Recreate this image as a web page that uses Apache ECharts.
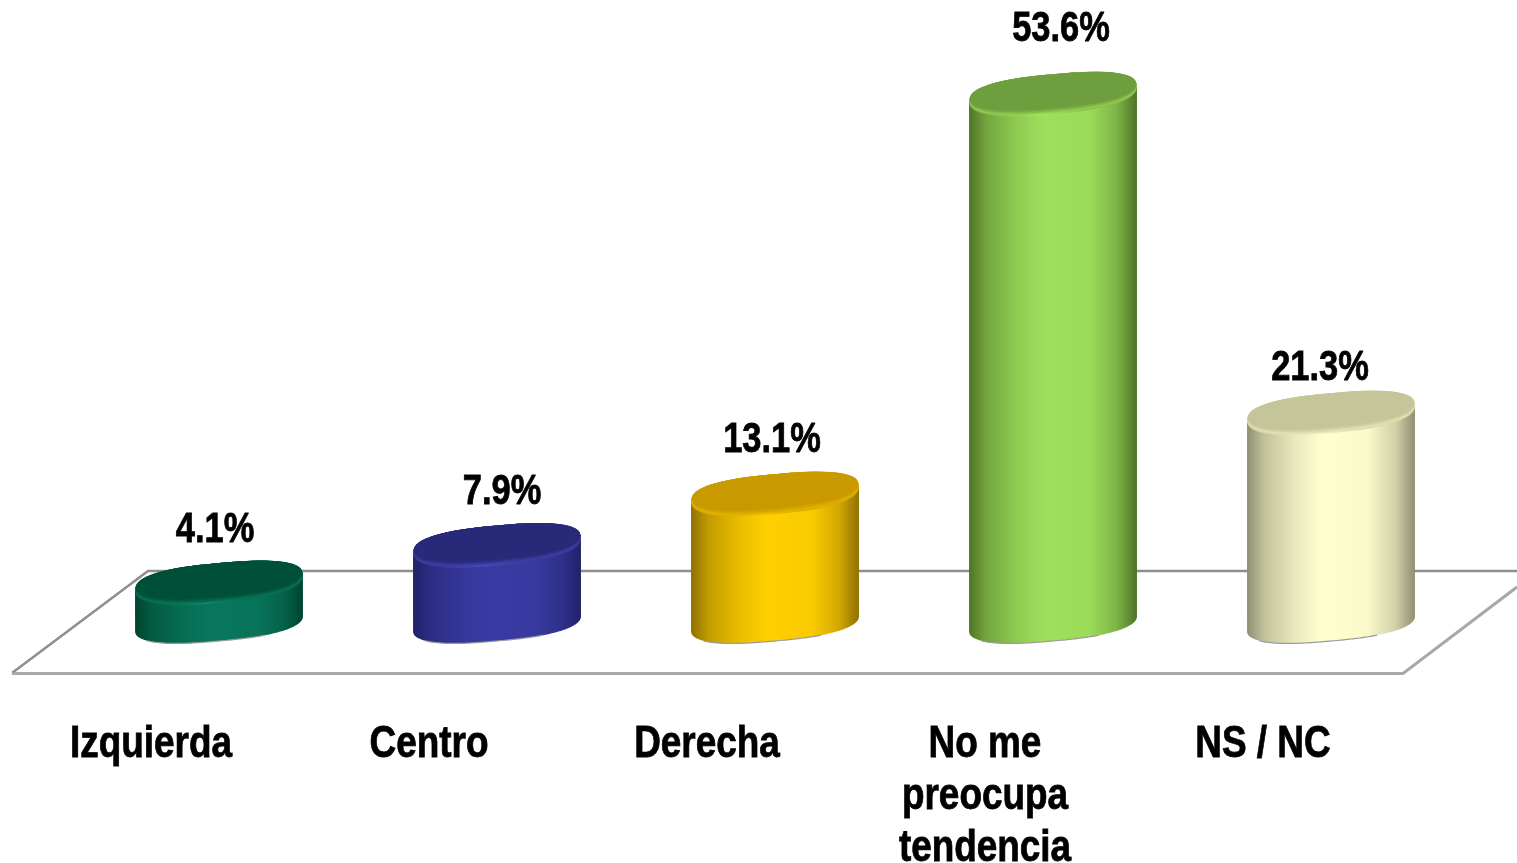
<!DOCTYPE html>
<html>
<head>
<meta charset="utf-8">
<style>
  html, body { margin: 0; padding: 0; background: #fff; }
  #chart { width: 1517px; height: 863px; }
</style>
<script src="https://cdn.jsdelivr.net/npm/echarts@6/dist/echarts.min.js"></script>
</head>
<body>
<div id="chart"></div>
<script>
// datos
const categories = ['Izquierda', 'Centro', 'Derecha', 'No me\npreocupa\ntendencia', 'NS / NC'];
const values = [4.1, 7.9, 13.1, 53.6, 21.3];

// colores: borde, centro, tapa
const edgeColors = ['#00442f', '#1f2168', '#8f7000', '#4f7327', '#8e8e72'];
const brightColors = ['#07775c', '#393ba3', '#ffcf00', '#9ee05b', '#ffffcf'];
const capColors = ['#004f39', '#29297a', '#c89a00', '#6f9e3e', '#c5c59a'];
const rimColors = ['#0f8a68', '#4a4cc0', '#f0c000', '#a6e85c', '#f2f2c4'];

// ajuste manual de las etiquetas respecto del centro de la tapa
const labelDx = [-4, 5, -3, 8, -11];
const labelDy = [-53, -53, -54, -65, -45];

const FONT = '"Liberation Sans", Arial, sans-serif';
const chart = echarts.init(document.getElementById('chart'));

// elipse inclinada (algo cuadrada para redondear los costados), de t0 a t1
function arc(cx, cy, a, b, s, t0, t1) {
  let pts = [];
  for (let i = 0; i <= 80; i++) {
    let t = t0 + (t1 - t0) * i / 80;
    let c = Math.cos(t), d = Math.sin(t);
    let x = Math.sign(c) * Math.pow(Math.abs(c), 0.76);
    let y = Math.sign(d) * Math.pow(Math.abs(d), 0.88);
    pts.push([cx + a * x, cy + b * y - s * x]);
  }
  return pts;
}

function hGradient(stops) {
  return new echarts.graphic.LinearGradient(0, 0, 1, 0, stops.map(function (c) {
    return { offset: c[0], color: c[1] };
  }));
}

// texto angosto: la fuente del original es mas condensada
function narrowText(text, x, y, size, vAlign) {
  return {
    type: 'text',
    x: x,
    y: y,
    scaleX: 0.82,
    style: {
      text: text,
      x: 0,
      y: 0,
      fill: '#000',
      stroke: '#000',
      lineWidth: 0.8,
      fontFamily: FONT,
      fontSize: size,
      fontWeight: 'bold',
      lineHeight: 52,
      align: 'center',
      verticalAlign: vAlign
    }
  };
}

function renderCylinder(params, api) {
  let i = params.dataIndex;
  let top = api.coord([api.value(0), api.value(1)]);
  let base = api.coord([api.value(0), 0]);
  let a = api.size([1, 0])[0] * 0.302;
  let mix = function (t) { return echarts.color.lerp(t, [edgeColors[i], brightColors[i]]); };
  let capMix = function (t) { return echarts.color.lerp(t, [capColors[i], rimColors[i]]); };

  let lower = arc(base[0], base[1], a, 17.5, 7.5, 0, Math.PI);
  let upper = arc(top[0], top[1], a, 20, 7.5, Math.PI, 2 * Math.PI);

  let children = [
    {
      type: 'polygon',
      shape: { points: lower.concat(upper) },
      style: {
        fill: hGradient([
          [0, mix(0)], [0.1, mix(0.45)], [0.28, mix(0.8)], [0.45, mix(1)],
          [0.72, mix(0.95)], [0.88, mix(0.6)], [1, mix(0)]
        ])
      }
    },
    {
      type: 'polyline',
      shape: { points: arc(base[0], base[1], a, 17.5, 7.5, 0.35 * Math.PI, 0.8 * Math.PI) },
      style: { fill: null, stroke: '#9a9a9a', lineWidth: 1.2 }
    },
    {
      type: 'polygon',
      shape: { points: arc(top[0], top[1], a, 20, 7.5, 0, 2 * Math.PI) },
      style: {
        fill: hGradient([
          [0, capMix(0.25)], [0.22, capMix(0.55)], [0.42, capMix(1)], [0.65, capMix(0.55)], [1, capMix(0.35)]
        ])
      }
    }
  ];

  // bisel de la tapa, mas oscuro hacia adentro
  [[1.5, 0.6], [3, 0.35], [4.5, 0.15], [6, 0]].forEach(function (step) {
    children.push({
      type: 'polygon',
      shape: { points: arc(top[0], top[1] - step[0] / 2, a - step[0] / 6, 20 - step[0] / 2, 7.5, 0, 2 * Math.PI) },
      style: { fill: capMix(step[1]) }
    });
  });

  children.push(narrowText(api.value(1).toFixed(1) + '%', top[0] + labelDx[i], top[1] + labelDy[i], 42, 'middle'));
  children.push(narrowText(categories[i], base[0] - 68, base[1] + 95, 45, 'top'));

  return { type: 'group', children: children };
}

let option = {
  animation: false,
  backgroundColor: '#fff',
  grid: { left: 80, right: 47, top: 31, bottom: 239.5 },
  xAxis: {
    type: 'category',
    data: categories,
    axisLine: { show: false },
    axisTick: { show: false },
    axisLabel: { show: false }
  },
  yAxis: { type: 'value', min: 0, max: 60, show: false },
  // piso
  graphic: [
    {
      type: 'polyline',
      shape: { points: [[12, 673], [148, 571], [1517, 571]] },
      style: { fill: null, stroke: '#8e8e8e', lineWidth: 2.5 }
    },
    {
      type: 'polyline',
      shape: { points: [[12, 673.5], [1403, 673.5], [1517, 587]] },
      style: { fill: null, stroke: '#a8a8a8', lineWidth: 3 }
    }
  ],
  series: [
    {
      type: 'custom',
      renderItem: renderCylinder,
      encode: { x: 0, y: 1 },
      clip: false,
      data: values.map(function (v, i) { return [i, v]; })
    }
  ]
};

chart.setOption(option);
</script>
</body>
</html>
